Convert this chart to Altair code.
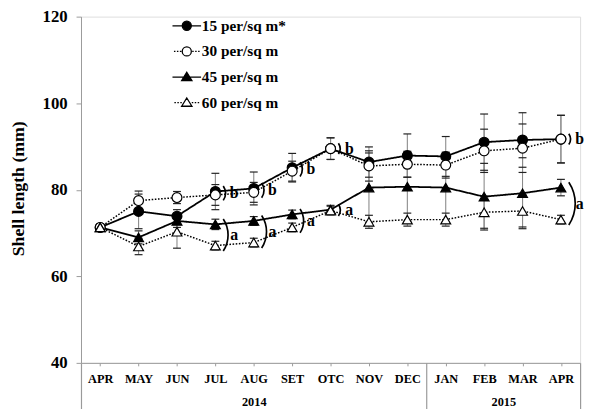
import altair as alt
import pandas as pd

# ---------------- data ----------------
months = ["APR", "MAY", "JUN", "JUL", "AUG", "SET", "OTC", "NOV", "DEC", "JAN", "FEB", "MAR", "APR"]
years = ["2014"] * 9 + ["2015"] * 4
series = ["15 per/sq m*", "30 per/sq m", "45 per/sq m", "60 per/sq m"]

d15 = [71.3, 75.0, 73.9, 79.6, 80.3, 85.1, 89.5, 86.4, 87.9, 87.7, 91.0, 91.5, 91.7]
d30 = [71.3, 77.5, 78.2, 78.8, 79.4, 84.3, 89.5, 85.5, 85.9, 85.7, 89.0, 89.6, 91.7]
d45 = [71.3, 69.0, 72.8, 72.0, 72.8, 74.3, 75.4, 80.5, 80.7, 80.5, 78.4, 79.2, 80.5]
d60 = [71.3, 66.9, 70.3, 67.1, 67.8, 71.3, 75.2, 72.6, 73.1, 73.1, 74.8, 75.1, 73.1]

e15 = [0, 4.0, 1.5, 4.2, 3.8, 3.3, 2.5, 3.5, 5.0, 4.6, 6.5, 6.3, 5.5]
e30 = [0, 2.2, 1.4, 2.4, 2.3, 2.3, 2.5, 3.5, 3.0, 3.0, 5.0, 5.6, 5.5]
e45 = [0, 1.5, 1.5, 1.2, 1.0, 1.0, 1.0, 8.0, 8.0, 8.0, 7.7, 8.2, 1.9]
e60 = [0, 1.9, 3.8, 1.0, 1.0, 1.0, 1.0, 1.5, 1.5, 1.5, 3.7, 3.7, 1.0]

# significance letters: (month index, letter, upper series, lower series)
sig_idx = [3, 4, 5, 6, 12, 3, 4, 5, 6, 12]
sig_letter = ["b", "b", "b", "b", "b", "a", "a", "a", "a", "a"]
sig_pair = [(0, 1)] * 5 + [(2, 3)] * 5

year_names = ["2014", "2015"]
year_start = [0, 9]
year_end = [9, 13]

# ---------------- build tables ----------------
keys = [f"{m} {y}" for m, y in zip(months, years)]
vals = [d15, d30, d45, d60]
errs = [e15, e30, e45, e60]

rows = []
for s, v, e in zip(series, vals, errs):
    for k, vv, ee in zip(keys, v, e):
        rows.append({"series": s, "key": k, "value": vv, "err": ee,
                     "lo": vv - ee, "hi": vv + ee})
df = pd.DataFrame(rows)

W, H = 506, 351
PX = H / 80.0
brow = []
for i, letter, (a, b) in zip(sig_idx, sig_letter, sig_pair):
    v1, v2 = vals[a][i], vals[b][i]
    span = abs(v1 - v2) * PX + 11
    brow.append({"key": keys[i], "mid": (v1 + v2) / 2, "letter": letter,
                 "sz": span * span})
bdf = pd.DataFrame(brow)

ydf = pd.DataFrame({"year": year_names,
                    "mid": [(s + e) / 2 for s, e in zip(year_start, year_end)]})
year_ticks = sorted(set(year_start + year_end + list(ydf["mid"])))
label_expr = " : ".join(
    [f"datum.value == {m} ? '{y}'" for y, m in zip(year_names, ydf["mid"])]) + " : ''"
hide_test = " || ".join([f"datum.value == {m}" for m in ydf["mid"]])

FONT = "Liberation Serif"
GREY = "#9a9a9a"

xenc = alt.X("key:N", sort=keys,
             scale=alt.Scale(type="point", domain=keys, padding=0.5),
             axis=alt.Axis(orient="bottom", title=None, labelAngle=0,
                           labelExpr="split(datum.value, ' ')[0]",
                           labelFont=FONT, labelFontWeight="bold", labelFontSize=12.5,
                           labelColor="black", labelPadding=7, tickSize=3,
                           tickColor=GREY, domainColor=GREY, grid=False))
yscale = alt.Scale(domain=[40, 120], nice=False, zero=False)
yenc = alt.Y("value:Q", scale=yscale,
             axis=alt.Axis(values=[40, 60, 80, 100, 120], title="Shell length (mm)",
                           titleFont=FONT, titleFontSize=18, titleFontWeight="bold",
                           titleX=-63, titleY=174, titleAngle=270, titleAlign="center",
                           titleBaseline="middle", titleColor="black",
                           labelFont=FONT, labelFontSize=17, labelFontWeight="bold",
                           labelColor="black", labelPadding=9, tickSize=5,
                           tickColor=GREY, domainColor=GREY, grid=False))

base = alt.Chart(df)

layers = []
# error bars
layers.append(base.transform_filter("datum.err > 0").mark_rule(color="#8a8a8a", strokeWidth=1.1)
              .encode(x=xenc, y=alt.Y("lo:Q", scale=yscale), y2="hi:Q"))
for fld in ["lo", "hi"]:
    layers.append(base.transform_filter("datum.err > 0")
                  .mark_tick(color="#222222", size=8, thickness=1.2, opacity=1)
                  .encode(x=xenc, y=alt.Y(f"{fld}:Q", scale=yscale)))

# series lines and markers
styles = [
    dict(dash=[1, 0], sw=1.8, shape="circle", fill="black"),
    dict(dash=[1.6, 1.6], sw=1.5, shape="circle", fill="white"),
    dict(dash=[1, 0], sw=1.8, shape="triangle-up", fill="black"),
    dict(dash=[1.6, 1.6], sw=1.5, shape="triangle-up", fill="white"),
]
for s, st in zip(series, styles):
    sub = base.transform_filter(alt.datum.series == s)
    layers.append(sub.mark_line(color="black", strokeWidth=st["sw"], strokeDash=st["dash"])
                  .encode(x=xenc, y=yenc))
for s, st in zip(series, styles):
    sub = base.transform_filter(alt.datum.series == s)
    layers.append(sub.mark_point(shape=st["shape"], filled=True, fill=st["fill"],
                                 stroke="black", strokeWidth=1.2, size=100, opacity=1)
                  .encode(x=xenc, y=yenc))

# significance brackets ")" as a custom arc symbol, and letters
sag = 0.3
R = (1 + sag * sag) / (2 * sag)
bracket_path = f"M0,-1A{R:.3f},{R:.3f},0,0,1,0,1"
bbase = alt.Chart(bdf)
layers.append(bbase.mark_point(shape=bracket_path, filled=False, stroke="black",
                               strokeWidth=1.7, opacity=1, xOffset=8)
              .encode(x=xenc, y=alt.Y("mid:Q", scale=yscale),
                      size=alt.Size("sz:Q", scale=None, legend=None)))
layers.append(bbase.mark_text(font=FONT, fontWeight="bold", fontSize=16, align="center",
                              baseline="middle", dx=19, dy=0, color="black")
              .encode(x=xenc, y=alt.Y("mid:Q", scale=yscale), text="letter:N"))

# legend (custom symbols: line + marker)
U = 6.0
L = 14.5 / U
rc = 4.6 / U
tw, th1, th2 = 5.2 / U, 4.8 / U, 3.6 / U


def circle_path(r):
    return f"M{-r:.3f},0A{r:.3f},{r:.3f},0,1,1,{r:.3f},0A{r:.3f},{r:.3f},0,1,1,{-r:.3f},0Z"


def tri_path():
    return f"M0,{-th1:.3f}L{tw:.3f},{th2:.3f}L{-tw:.3f},{th2:.3f}Z"


def dotted(r):
    segs = []
    dl = 1.5 / U
    x = r + 0.15
    while x + dl <= L:
        segs.append(f"M{x:.3f},0L{x + dl:.3f},0M{-x:.3f},0L{-x - dl:.3f},0")
        x += 2 * dl
    return "".join(segs)


paths = [
    f"M{-L:.3f},0L{L:.3f},0" + circle_path(rc),
    dotted(rc) + circle_path(rc),
    f"M{-L:.3f},0L{L:.3f},0" + tri_path(),
    dotted(tw * 0.8) + tri_path(),
]
leg = alt.Legend(title=None, orient="none", legendX=99.5, legendY=1.5,
                 labelFont=FONT, labelFontWeight="bold", labelFontSize=15.5,
                 labelColor="black", labelLimit=300, symbolStrokeColor="black",
                 symbolStrokeWidth=1.3, symbolSize=144, labelOffset=7.5,
                 rowPadding=9.0, padding=0, symbolOpacity=1)
layers.append(base.transform_filter("false")
              .mark_point(filled=True, strokeWidth=1.3, opacity=1, size=144)
              .encode(x=xenc, y=yenc,
                      shape=alt.Shape("series:N", scale=alt.Scale(domain=series, range=paths), legend=leg),
                      fill=alt.Fill("series:N", scale=alt.Scale(domain=series,
                                                                range=["black", "white", "black", "white"]),
                                    legend=leg),
                      stroke=alt.Stroke("series:N", scale=alt.Scale(domain=series,
                                                                    range=["black"] * 4),
                                        legend=leg)))

inner = alt.layer(*layers)

# year grouping axis
year_layer = alt.Chart(ydf).mark_point(opacity=0).encode(
    x=alt.X("mid:Q", scale=alt.Scale(domain=[0, 13], nice=False, zero=False),
            axis=alt.Axis(orient="bottom", title=None, values=year_ticks, labelExpr=label_expr,
                          domain=False, grid=False, tickSize=48, tickColor=GREY,
                          tickWidth=1.2,
                          tickOpacity={"condition": {"test": hide_test, "value": 0}, "value": 1},
                          labelFont=FONT, labelFontWeight="bold", labelFontSize=12.5,
                          labelColor="black", labelPadding=-15, labelFlush=False,
                          labelOverlap=False)),
)

chart = alt.layer(inner, year_layer).resolve_scale(x="independent").properties(
    width=W, height=H,
    padding={"left": 74, "top": 6, "right": 8, "bottom": 44},
    autosize=alt.AutoSizeParams(type="none"),
).configure_view(stroke=None).configure(background="white")

chart.save("out.html", embed_options={"renderer": "svg", "actions": False})
